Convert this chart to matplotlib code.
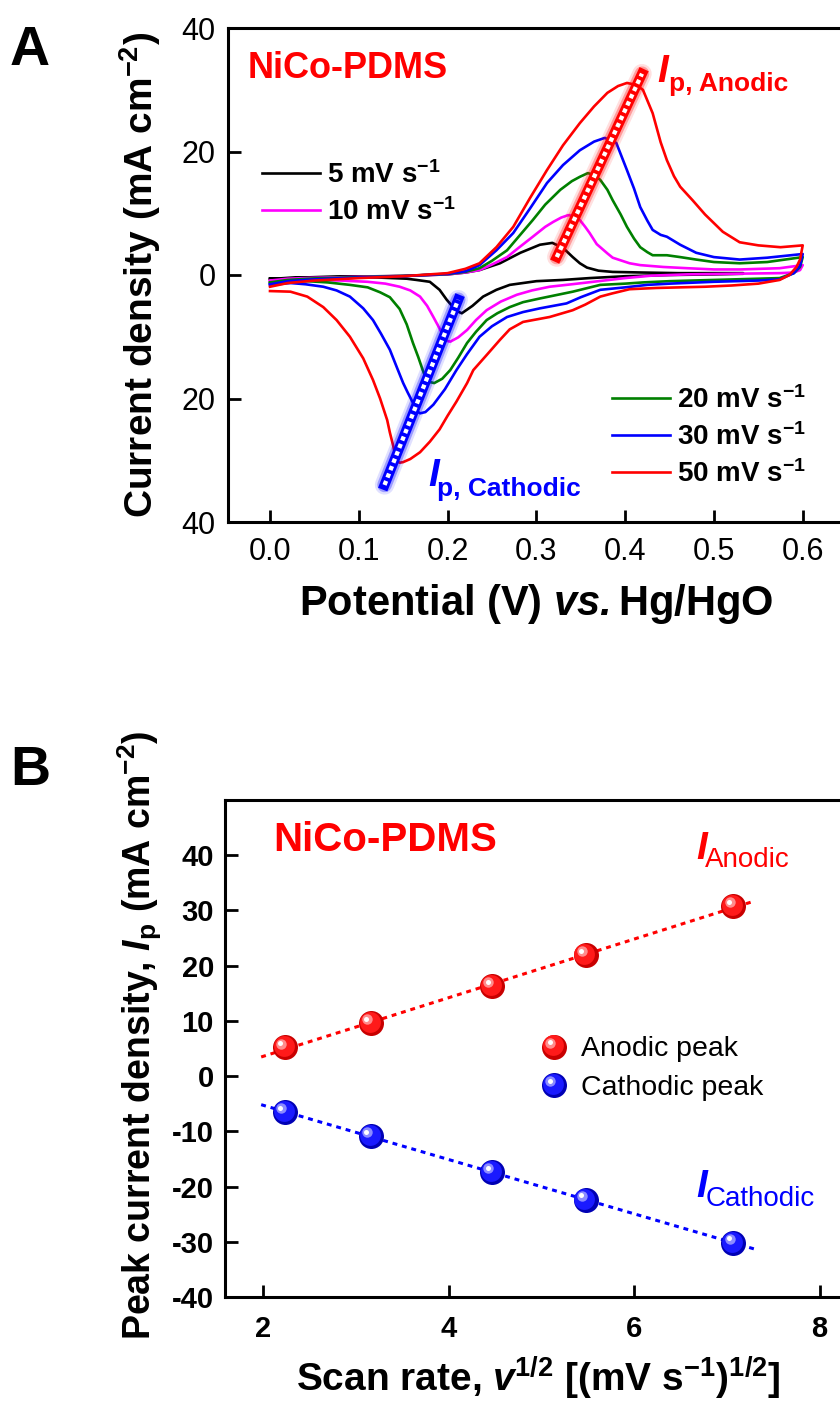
import numpy as np
import matplotlib
matplotlib.use('Agg')
import matplotlib.pyplot as plt
from matplotlib.transforms import ScaledTranslation
from matplotlib.legend_handler import HandlerBase
from matplotlib.lines import Line2D

plt.rcParams['font.family'] = ['Liberation Sans', 'DejaVu Sans']
plt.rcParams['mathtext.fontset'] = 'custom'
plt.rcParams['mathtext.rm'] = 'Liberation Sans'
plt.rcParams['mathtext.it'] = 'Liberation Sans:italic'
plt.rcParams['mathtext.bf'] = 'Liberation Sans:bold'
plt.rcParams['mathtext.bfit'] = 'Liberation Sans:bold:italic'
plt.rcParams['axes.unicode_minus'] = False

### Panel A data: CV loops (potential V, current density mA cm-2) ###
E5_fwd = [0.0, 0.05, 0.10, 0.15, 0.20, 0.22, 0.236, 0.259, 0.282, 0.304, 0.318, 0.33, 0.341, 0.349, 0.357, 0.37, 0.386, 0.42, 0.46, 0.50, 0.533]
J5_fwd = [-0.6, -0.35, -0.25, -0.15, 0.1, 0.4, 0.8, 1.9, 3.6, 4.9, 5.2, 4.4, 2.9, 1.9, 1.2, 0.7, 0.5, 0.4, 0.3, 0.3, 0.3]
E5_rev = [0.533, 0.50, 0.45, 0.40, 0.36, 0.33, 0.30, 0.27, 0.255, 0.24, 0.228, 0.216, 0.21, 0.205, 0.199, 0.191, 0.18, 0.165, 0.154, 0.12, 0.079, 0.04, 0.0]
J5_rev = [0.2, 0.1, 0.0, -0.2, -0.5, -0.8, -1.0, -1.6, -2.4, -3.5, -5.0, -6.2, -5.8, -5.0, -4.0, -2.4, -1.1, -0.8, -0.6, -0.4, -0.3, -0.4, -0.6]

E10_fwd = [0.0, 0.02, 0.05, 0.10, 0.15, 0.20, 0.22, 0.236, 0.25, 0.267, 0.28, 0.296, 0.31, 0.319, 0.328, 0.336, 0.343, 0.349, 0.355, 0.36, 0.368, 0.38, 0.386, 0.405, 0.417, 0.443, 0.47, 0.50, 0.53, 0.574, 0.60]
J10_fwd = [-0.9, -0.6, -0.45, -0.3, -0.15, 0.1, 0.4, 0.8, 1.7, 2.9, 4.4, 6.2, 7.8, 8.6, 9.3, 9.7, 9.5, 8.9, 7.8, 6.8, 5.0, 3.5, 2.8, 1.9, 1.6, 1.3, 1.1, 0.9, 0.9, 1.1, 1.6]
E10_rev = [0.60, 0.597, 0.59, 0.574, 0.52, 0.47, 0.43, 0.40, 0.364, 0.34, 0.315, 0.295, 0.278, 0.26, 0.244, 0.232, 0.222, 0.212, 0.203, 0.198, 0.195, 0.19, 0.184, 0.177, 0.169, 0.158, 0.146, 0.13, 0.11, 0.079, 0.04, 0.0]
J10_rev = [1.6, 0.8, 0.4, 0.3, 0.2, 0.1, -0.1, -0.5, -1.1, -1.5, -1.9, -2.5, -3.2, -4.3, -5.7, -7.3, -8.9, -10.1, -10.8, -10.6, -9.8, -8.4, -6.8, -5.0, -3.5, -2.5, -1.9, -1.4, -1.1, -0.9, -0.8, -1.0]

E20_fwd = [0.0, 0.02, 0.05, 0.10, 0.15, 0.20, 0.22, 0.236, 0.25, 0.267, 0.28, 0.296, 0.31, 0.327, 0.34, 0.349, 0.358, 0.365, 0.372, 0.38, 0.386, 0.395, 0.402, 0.41, 0.417, 0.425, 0.431, 0.447, 0.462, 0.48, 0.50, 0.529, 0.56, 0.60]
J20_fwd = [-1.2, -0.8, -0.55, -0.35, -0.15, 0.15, 0.5, 1.1, 2.3, 4.0, 6.2, 8.9, 11.4, 13.8, 15.2, 15.9, 16.5, 16.2, 15.4, 13.8, 12.1, 9.8, 7.8, 5.9, 4.5, 3.7, 3.2, 3.2, 2.9, 2.5, 2.1, 1.9, 2.1, 2.9]
E20_rev = [0.60, 0.597, 0.59, 0.574, 0.55, 0.50, 0.45, 0.42, 0.40, 0.372, 0.341, 0.304, 0.285, 0.27, 0.256, 0.244, 0.232, 0.222, 0.212, 0.203, 0.194, 0.185, 0.179, 0.175, 0.172, 0.167, 0.161, 0.154, 0.146, 0.135, 0.124, 0.11, 0.09, 0.065, 0.042, 0.02, 0.0]
J20_rev = [2.9, 1.3, 0.3, -0.5, -0.6, -0.8, -1.0, -1.2, -1.4, -1.6, -2.7, -3.8, -4.4, -5.2, -6.2, -7.3, -9.2, -11.0, -13.4, -15.4, -16.8, -17.5, -17.3, -16.5, -15.4, -13.3, -11.0, -8.0, -5.5, -3.6, -2.8, -2.0, -1.6, -1.2, -1.0, -1.1, -1.3]

E30_fwd = [0.0, 0.02, 0.05, 0.10, 0.15, 0.20, 0.22, 0.236, 0.255, 0.274, 0.293, 0.312, 0.33, 0.349, 0.365, 0.377, 0.39, 0.402, 0.41, 0.417, 0.425, 0.431, 0.44, 0.447, 0.462, 0.48, 0.50, 0.529, 0.56, 0.60]
J30_fwd = [-1.5, -1.0, -0.7, -0.4, -0.2, 0.2, 0.6, 1.6, 4.0, 6.8, 10.8, 14.9, 17.8, 20.2, 21.6, 22.2, 21.4, 17.0, 14.0, 11.0, 8.8, 7.3, 6.5, 6.2, 4.9, 3.6, 2.9, 2.5, 2.8, 3.4]
E30_rev = [0.60, 0.597, 0.59, 0.574, 0.55, 0.50, 0.45, 0.425, 0.40, 0.372, 0.35, 0.334, 0.304, 0.285, 0.267, 0.25, 0.236, 0.222, 0.21, 0.197, 0.184, 0.175, 0.169, 0.165, 0.161, 0.155, 0.150, 0.143, 0.135, 0.125, 0.116, 0.105, 0.09, 0.075, 0.06, 0.04, 0.023, 0.0]
J30_rev = [3.4, 1.5, 0.3, -0.7, -0.9, -1.1, -1.4, -1.6, -2.0, -2.4, -3.6, -4.6, -5.4, -6.0, -6.8, -8.3, -10.0, -12.8, -15.4, -18.5, -21.0, -22.2, -22.4, -22.0, -20.7, -19.0, -17.5, -15.0, -12.1, -9.5, -7.3, -5.4, -3.5, -2.5, -1.9, -1.5, -1.3, -1.6]

E50_fwd = [0.0, 0.02, 0.05, 0.10, 0.15, 0.20, 0.22, 0.236, 0.255, 0.274, 0.293, 0.312, 0.33, 0.349, 0.365, 0.38, 0.392, 0.402, 0.412, 0.42, 0.431, 0.44, 0.447, 0.455, 0.462, 0.476, 0.49, 0.51, 0.529, 0.55, 0.575, 0.60]
J50_fwd = [-1.9, -1.3, -0.9, -0.5, -0.2, 0.3, 1.0, 1.9, 4.5, 7.8, 12.5, 17.0, 21.0, 24.6, 27.3, 29.5, 30.6, 31.1, 30.8, 30.0, 26.2, 21.5, 18.6, 16.0, 14.3, 12.1, 9.8, 7.0, 5.3, 4.8, 4.5, 4.8]
E50_rev = [0.60, 0.597, 0.593, 0.585, 0.574, 0.55, 0.52, 0.49, 0.462, 0.435, 0.405, 0.385, 0.372, 0.355, 0.341, 0.315, 0.285, 0.27, 0.259, 0.245, 0.229, 0.222, 0.21, 0.2, 0.191, 0.18, 0.169, 0.158, 0.150, 0.146, 0.142, 0.139, 0.135, 0.132, 0.124, 0.116, 0.105, 0.09, 0.075, 0.06, 0.042, 0.023, 0.0]
J50_rev = [4.8, 2.5, 1.3, 0.0, -0.8, -1.4, -1.7, -1.9, -2.0, -2.1, -2.3, -3.0, -3.5, -4.8, -5.7, -6.8, -7.6, -8.8, -10.5, -12.8, -15.4, -17.5, -20.5, -22.8, -25.0, -27.0, -28.7, -29.8, -30.3, -30.4, -30.0, -27.8, -25.5, -23.5, -20.0, -17.0, -13.5, -10.0, -7.3, -5.2, -3.5, -2.7, -2.6]

CV_LABELS = ['5 mV s$^{\\mathbf{-1}}$', '10 mV s$^{\\mathbf{-1}}$', '20 mV s$^{\\mathbf{-1}}$',
             '30 mV s$^{\\mathbf{-1}}$', '50 mV s$^{\\mathbf{-1}}$']
CV_COLORS = ['#000000', '#ff00ff', '#008000', '#0000ff', '#ff0000']

# guide lines through the peak positions
ANODIC_GUIDE_E = [0.323, 0.419]
ANODIC_GUIDE_J = [2.9, 32.6]
CATHODIC_GUIDE_E = [0.129, 0.212]
CATHODIC_GUIDE_J = [-34.0, -4.0]

### Panel B data ###
SCAN_RATE = [5, 10, 20, 30, 50]
ANODIC_PEAK = [5.2, 9.6, 16.3, 21.9, 30.8]
CATHODIC_PEAK = [-6.5, -10.9, -17.4, -22.4, -30.2]
FIT_RANGE = [1.98, 7.3]

RED = '#ff0000'
BLUE = '#0000ff'

fig = plt.figure(figsize=(8.4, 14.03), dpi=100)
W, H = 840.0, 1403.0


def style_axes(ax):
    for side in ['left', 'bottom', 'top']:
        ax.spines[side].set_linewidth(2.2)
    ax.spines['right'].set_visible(False)
    ax.tick_params(direction='in', length=9, width=2, top=False, right=False)


### Panel A ###################################
axA = fig.add_axes([228 / W, 1 - 522 / H, 612 / W, 494 / H])
style_axes(axA)
cv = [(E5_fwd + E5_rev, J5_fwd + J5_rev), (E10_fwd + E10_rev, J10_fwd + J10_rev),
      (E20_fwd + E20_rev, J20_fwd + J20_rev), (E30_fwd + E30_rev, J30_fwd + J30_rev),
      (E50_fwd + E50_rev, J50_fwd + J50_rev)]
lines = []
for (e, j), c, lab in zip(cv, CV_COLORS, CV_LABELS):
    ln, = axA.plot(e, j, color=c, lw=1.9, label=lab, zorder=3)
    lines.append(ln)

axA.set_xlim(-0.0473, 0.642)
axA.set_ylim(-40, 40)
axA.set_xticks([0.0, 0.1, 0.2, 0.3, 0.4, 0.5, 0.6])
axA.set_xticklabels(['0.0', '0.1', '0.2', '0.3', '0.4', '0.5', '0.6'])
axA.set_yticks([-40, -20, 0, 20, 40])
axA.set_yticklabels(['40', '20', '0', '20', '40'])
axA.tick_params(axis='x', pad=11)
axA.tick_params(axis='y', pad=9)
for lab in axA.get_xticklabels() + axA.get_yticklabels():
    lab.set_family(['Liberation Sans Narrow', 'Liberation Sans'])
    lab.set_fontsize(22)


def guide(ax, x, y, color):
    ax.plot(x, y, color=color, lw=14, alpha=0.12, solid_capstyle='round', zorder=5)
    ax.plot(x, y, color=color, lw=10.5, alpha=0.3, solid_capstyle='round', zorder=5)
    ax.plot(x, y, color=color, lw=7.2, solid_capstyle='projecting', zorder=6)
    ax.plot(x, y, color='white', lw=3.1, linestyle=(0, (1, 0.85)), dash_capstyle='butt', zorder=7)


guide(axA, ANODIC_GUIDE_E, ANODIC_GUIDE_J, RED)
guide(axA, CATHODIC_GUIDE_E, CATHODIC_GUIDE_J, BLUE)

leg1 = axA.legend(handles=lines[:2], loc='center left', bbox_to_anchor=(0.055, 0.665),
                  frameon=False, prop={'weight': 'bold', 'size': 20}, handlelength=2.1,
                  handletextpad=0.25, labelspacing=0.33, borderpad=0, borderaxespad=0)
axA.add_artist(leg1)
axA.legend(handles=lines[2:], loc='center left', bbox_to_anchor=(0.627, 0.172),
           frameon=False, prop={'weight': 'bold', 'size': 20}, handlelength=2.1,
           handletextpad=0.25, labelspacing=0.33, borderpad=0, borderaxespad=0)

axA.text(-0.0248, 31.9, 'NiCo-PDMS', color=RED, fontsize=26, fontweight='bold')
axA.text(0.4358, 31.3, 'I', color=RED, fontsize=28, fontweight='bold', style='italic')
axA.text(0.4493, 29.8, 'p, Anodic', color=RED, fontsize=19, fontweight='bold')
axA.text(0.178, -34.2, 'I', color=BLUE, fontsize=28, fontweight='bold', style='italic')
axA.text(0.188, -35.8, 'p, Cathodic', color=BLUE, fontsize=19, fontweight='bold')

fig.text(10 / W, 1 - 65 / H, 'A', fontsize=40, fontweight='bold')
fig.text(140 / W, 1 - 275 / H, 'Current density (mA cm$^{\\mathbf{-2}}$)', rotation=90,
         ha='center', va='center', fontsize=28, fontweight='bold')
fig.text(536 / W, 1 - 615 / H, 'Potential (V) $\\mathbfit{vs.}$Hg/HgO', ha='center',
         va='baseline', fontsize=30, fontweight='bold')

### Panel B ###################################
axB = fig.add_axes([225 / W, 1 - 1297 / H, 615 / W, 497 / H])
style_axes(axB)

x_sqrt = np.sqrt(SCAN_RATE)
fit_x = np.array(FIT_RANGE)
for peaks, color in [(ANODIC_PEAK, RED), (CATHODIC_PEAK, BLUE)]:
    k, b = np.polyfit(x_sqrt, peaks, 1)
    axB.plot(fit_x, k * fit_x + b, color=color, lw=2.2, linestyle=(0, (1.6, 1.6)), zorder=2)

LIGHT = {RED: ('#c80000', '#ff1a1a', '#ff8c8c'), BLUE: ('#0000b4', '#1a1aff', '#8c8cff')}


def sphere_layers(color):
    dark, mid, light = LIGHT[color]
    return [(18, dark, 0, 0), (15, mid, -0.8, 0.8), (7.5, light, -2.8, 2.8), (3.6, 'white', -3.2, 3.2)]


def spheres(ax, x, y, color):
    for i, (ms, c, dx, dy) in enumerate(sphere_layers(color)):
        tr = ax.transData + ScaledTranslation(dx / 72, dy / 72, fig.dpi_scale_trans)
        ax.plot(x, y, 'o', ms=ms, color=c, mec='none', transform=tr, zorder=4 + i)


class SphereHandler(HandlerBase):
    def __init__(self, color):
        super().__init__()
        self.color = color

    def create_artists(self, legend, orig_handle, xdescent, ydescent, width, height, fontsize, trans):
        cx = width / 2 - xdescent
        cy = height / 2 - ydescent
        arts = []
        for ms, c, dx, dy in sphere_layers(self.color):
            ln = Line2D([cx + dx], [cy + dy], marker='o', ms=ms, color=c, mec='none', ls='none')
            ln.set_transform(trans)
            arts.append(ln)
        return arts


spheres(axB, x_sqrt, ANODIC_PEAK, RED)
spheres(axB, x_sqrt, CATHODIC_PEAK, BLUE)

h_an = Line2D([], [], ls='none')
h_ca = Line2D([], [], ls='none')
axB.legend([h_an, h_ca], ['Anodic peak', 'Cathodic peak'], loc='center left',
           bbox_to_anchor=(0.51, 0.459), frameon=False, prop={'size': 20.5},
           handler_map={h_an: SphereHandler(RED), h_ca: SphereHandler(BLUE)},
           handlelength=1.1, handletextpad=0.4, labelspacing=0.45, borderpad=0, borderaxespad=0)

axB.set_xlim(1.59, 8.22)
axB.set_ylim(-40, 50)
axB.set_xticks([2, 4, 6, 8])
axB.set_yticks(np.arange(-40, 41, 10))
axB.tick_params(axis='x', labelsize=21, pad=13)
axB.tick_params(axis='y', labelsize=21, pad=8)
for lab in axB.get_xticklabels() + axB.get_yticklabels():
    lab.set_fontweight('bold')

axB.text(2.108, 40.7, 'NiCo-PDMS', color=RED, fontsize=29, fontweight='bold')
axB.text(6.666, 39.4, 'I', color=RED, fontsize=28, fontweight='bold', style='italic')
axB.text(6.763, 37.8, 'Anodic', color=RED, fontsize=20)
axB.text(6.666, -21.9, 'I', color=BLUE, fontsize=28, fontweight='bold', style='italic')
axB.text(6.773, -23.5, 'Cathodic', color=BLUE, fontsize=20)

fig.text(10 / W, 1 - 785 / H, 'B', fontsize=40, fontweight='bold')
fig.text(140 / W, 1 - 1035 / H,
         'Peak current density, $\\mathbfit{I}_{\\mathbf{p}}$ (mA cm$^{\\mathbf{-2}}$)',
         rotation=90, ha='center', va='center', fontsize=27, fontweight='bold')
fig.text(538 / W, 1 - 1392 / H,
         'Scan rate, $\\mathbfit{v}^{\\mathbf{1/2}}$ [(mV s$^{\\mathbf{-1}}$)$^{\\mathbf{1/2}}$]',
         ha='center', va='baseline', fontsize=28, fontweight='bold')

fig.savefig('out.png', dpi=100)
